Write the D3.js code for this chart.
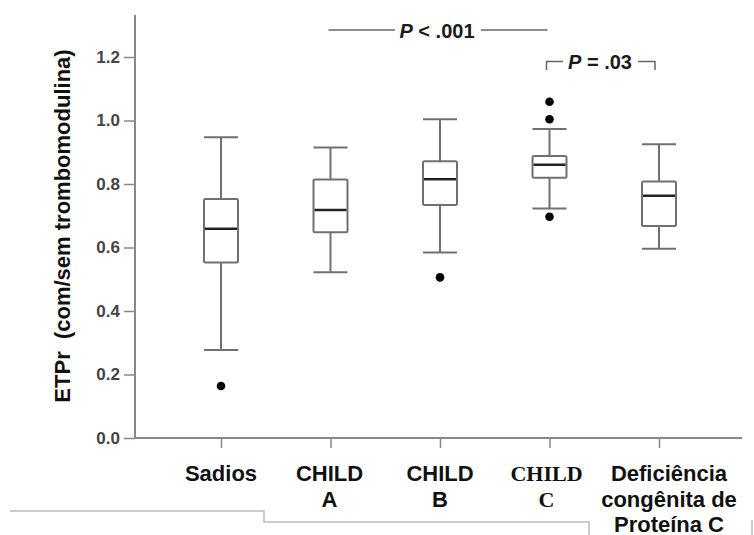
<!DOCTYPE html>
<html>
<head>
<meta charset="utf-8">
<script src="https://cdn.jsdelivr.net/npm/d3@7"></script>
<style>
  body { margin: 0; background: #fff; }
  svg { display: block; font-family: "Liberation Sans", Arial, sans-serif; }
</style>
</head>
<body>
<svg width="754" height="535"></svg>
<script>
// data
const groups = ["Sadios", "CHILD A", "CHILD B", "CHILD C", "Deficiência"];
const groupLabels = [["Sadios"], ["CHILD", "A"], ["CHILD", "B"], ["CHILD", "C"], ["Deficiência", "congênita de", "Proteína C"]];
const whiskLow = [0.277, 0.522, 0.584, 0.723, 0.596];
const q1 = [0.553, 0.648, 0.734, 0.820, 0.668];
const median = [0.659, 0.718, 0.815, 0.861, 0.763];
const q3 = [0.753, 0.814, 0.872, 0.888, 0.808];
const whiskHigh = [0.947, 0.915, 1.004, 0.973, 0.925];
const outliers = [[0.164], [], [0.506], [1.059, 1.004, 0.697], []];
const yTicks = [0, 0.2, 0.4, 0.6, 0.8, 1.0, 1.2];
const yTitle = "ETPr  (com/sem trombomodulina)";

const svg = d3.select("svg");
const left = 135, bottom = 438;
const boxW = 34;

const y = d3.scaleLinear().domain([0, 1.2]).range([bottom, 57]);
const x = d3.scalePoint().domain(groups).range([221, 659]);

// y axis
const yAxis = d3.axisLeft(y).tickValues(yTicks).tickSize(11).tickPadding(4).tickFormat(d3.format(".1f"));
const gy = svg.append("g").attr("transform", `translate(${left},0)`).call(yAxis);
gy.select(".domain").remove();
gy.selectAll(".tick line").attr("stroke", "#888").attr("stroke-width", 1.5);
gy.selectAll(".tick text").attr("font-size", 17).attr("font-weight", "bold").attr("fill", "#444")
  .attr("font-family", "Liberation Sans, Arial, sans-serif");
svg.append("line").attr("x1", left).attr("x2", left).attr("y1", 15).attr("y2", bottom)
  .attr("stroke", "#888").attr("stroke-width", 2);

// x axis
const xAxis = d3.axisBottom(x).tickSize(10).tickFormat("");
const gx = svg.append("g").attr("transform", `translate(0,${bottom})`).call(xAxis);
gx.select(".domain").remove();
gx.selectAll(".tick line").attr("stroke", "#888").attr("stroke-width", 1.5);
svg.append("line").attr("x1", left).attr("x2", 742).attr("y1", bottom).attr("y2", bottom)
  .attr("stroke", "#888").attr("stroke-width", 2);

// category labels
const labelDx = [0, -1, 0, -3, 10];
groups.forEach((g, i) => {
  const serif = g === "CHILD C";
  const t = svg.append("text")
    .attr("x", x(g) + labelDx[i]).attr("y", 481)
    .attr("text-anchor", "middle")
    .attr("font-weight", "bold")
    .attr("font-size", 22)
    .attr("font-family", serif ? "Liberation Serif, Times New Roman, serif" : "Liberation Sans, Arial, sans-serif")
    .attr("fill", "#111");
  groupLabels[i].forEach((line, j) => {
    t.append("tspan").attr("x", x(g) + labelDx[i]).attr("dy", j === 0 ? 0 : 25.5).text(line);
  });
});

// y title
svg.append("text")
  .attr("transform", `translate(70,226) rotate(-90)`)
  .attr("text-anchor", "middle")
  .attr("font-size", 22).attr("font-weight", "bold").attr("fill", "#111")
  .attr("xml:space", "preserve")
  .text(yTitle);

// boxes
const boxes = svg.append("g").selectAll("g").data(groups).join("g");
boxes.append("line")
  .attr("x1", d => x(d)).attr("x2", d => x(d))
  .attr("y1", (d, i) => y(whiskHigh[i])).attr("y2", (d, i) => y(q3[i]))
  .attr("stroke", "#707070").attr("stroke-width", 2);
boxes.append("line")
  .attr("x1", d => x(d)).attr("x2", d => x(d))
  .attr("y1", (d, i) => y(q1[i])).attr("y2", (d, i) => y(whiskLow[i]))
  .attr("stroke", "#707070").attr("stroke-width", 2);
boxes.append("line")
  .attr("x1", d => x(d) - boxW / 2).attr("x2", d => x(d) + boxW / 2)
  .attr("y1", (d, i) => y(whiskHigh[i])).attr("y2", (d, i) => y(whiskHigh[i]))
  .attr("stroke", "#707070").attr("stroke-width", 2);
boxes.append("line")
  .attr("x1", d => x(d) - boxW / 2).attr("x2", d => x(d) + boxW / 2)
  .attr("y1", (d, i) => y(whiskLow[i])).attr("y2", (d, i) => y(whiskLow[i]))
  .attr("stroke", "#707070").attr("stroke-width", 2);
boxes.append("rect")
  .attr("x", d => x(d) - boxW / 2).attr("width", boxW)
  .attr("y", (d, i) => y(q3[i])).attr("height", (d, i) => y(q1[i]) - y(q3[i]))
  .attr("fill", "none").attr("stroke", "#707070").attr("stroke-width", 2).attr("rx", 1.5);
boxes.append("line")
  .attr("x1", d => x(d) - boxW / 2 + 1).attr("x2", d => x(d) + boxW / 2 - 1)
  .attr("y1", (d, i) => y(median[i])).attr("y2", (d, i) => y(median[i]))
  .attr("stroke", "#222").attr("stroke-width", 2.5);
boxes.each(function (d, i) {
  d3.select(this).selectAll("circle").data(outliers[i]).join("circle")
    .attr("cx", x(d)).attr("cy", v => y(v)).attr("r", 4.3).attr("fill", "#000");
});

// significance annotations
const annot = svg.append("g").attr("stroke", "#666").attr("stroke-width", 1.5).attr("fill", "none");
annot.append("line").attr("x1", x("CHILD A") - 2).attr("x2", 395).attr("y1", 30).attr("y2", 30);
annot.append("line").attr("x1", 481).attr("x2", x("CHILD C") - 2).attr("y1", 30).attr("y2", 30);
annot.append("path").attr("d", `M${x("CHILD C") - 3},70V61.5H563`);
annot.append("path").attr("d", `M638,61.5H${x("Deficiência") - 4}V70`);

function pText(xc, yb, rest) {
  const t = svg.append("text").attr("x", xc).attr("y", yb).attr("text-anchor", "middle")
    .attr("font-size", 20).attr("font-weight", "bold").attr("fill", "#1a1a1a");
  t.append("tspan").attr("font-style", "italic").text("P");
  t.append("tspan").text(rest);
}
pText(437, 38, " < .001");
pText(600, 68.5, " = .03");

// scan artefact lines along the bottom
svg.append("path").attr("d", "M10,511H264V522H589V535")
  .attr("fill", "none").attr("stroke", "#bbb").attr("stroke-width", 1.5);
svg.append("line").attr("x1", 752).attr("x2", 752).attr("y1", 520).attr("y2", 535)
  .attr("stroke", "#bbb").attr("stroke-width", 1.5);
</script>
</body>
</html>
